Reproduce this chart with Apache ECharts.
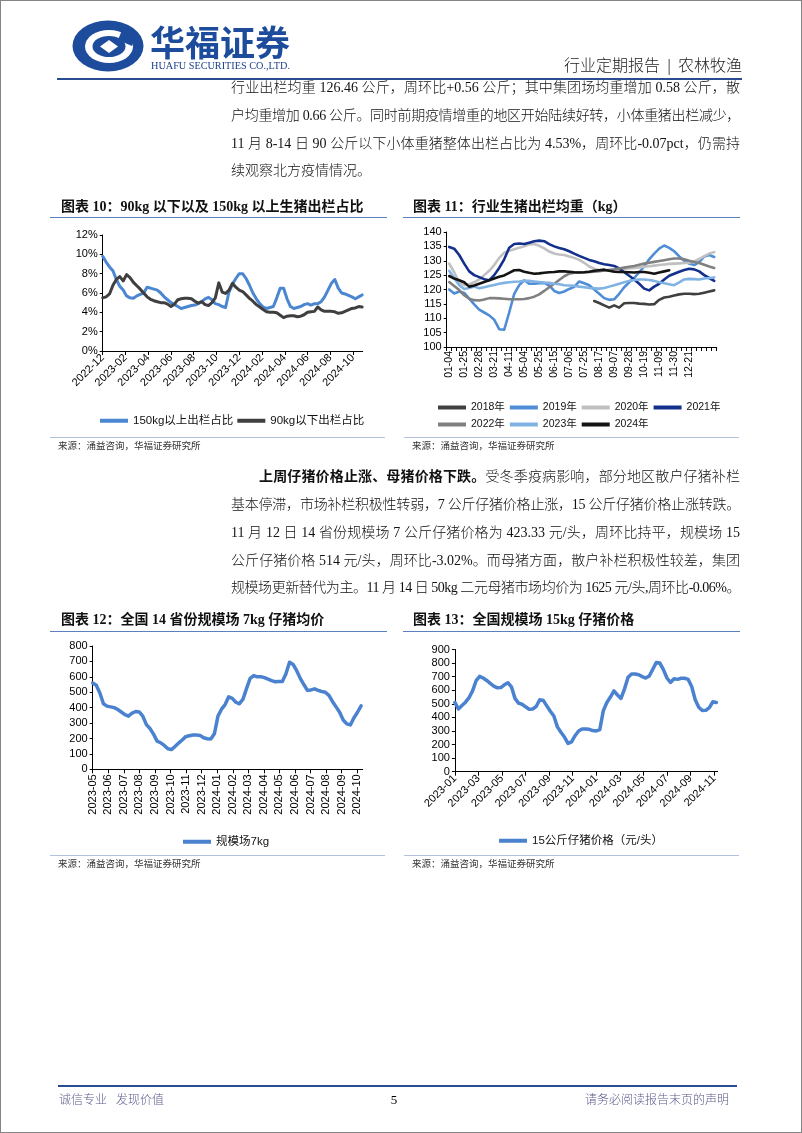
<!DOCTYPE html>
<html><head><meta charset="utf-8">
<script src="https://cdn.jsdelivr.net/npm/echarts@6/dist/echarts.min.js"></script>
<style>
html,body{margin:0;padding:0;background:#fff;}
#page{position:relative;width:802px;height:1133px;overflow:hidden;background:#fff;}
#chart{position:absolute;left:0;top:0;width:802px;height:1133px;}
#border{position:absolute;left:0;top:0;width:800px;height:1131px;border:1px solid #858585;pointer-events:none;}
.t{position:absolute;white-space:nowrap;font-family:"Liberation Serif","Noto Sans CJK SC",serif;color:#111;}
.ln{font-size:14px;line-height:20px;text-align:justify;text-align-last:justify;font-weight:300;}
.ln b{font-weight:bold;}
.nj{text-align:left;text-align-last:left;}
.ttl{font-size:14px;font-weight:bold;line-height:20px;}
.src{font-size:9.5px;line-height:12px;color:#333;}
.rule{position:absolute;}
</style></head>
<body><div id="page">
<div id="chart"></div>

<svg class="t" style="left:72px;top:20px" width="72" height="52" viewBox="0 0 72 52">
<ellipse cx="36" cy="26" rx="35.5" ry="25.5" fill="#1d4c9c"/>
<ellipse cx="37" cy="26.5" rx="24" ry="16.5" fill="#fff"/>
<ellipse cx="37" cy="26.5" rx="16.5" ry="10.5" fill="#1d4c9c"/>
<path d="M37 20 L46 26.5 L37 33 L28 26.5 Z" fill="#fff"/>
<path d="M50 10 L64 14 L60 26 L46 20 Z" fill="#1d4c9c"/>
</svg>
<div class="t" style="left:150px;top:20px;font-family:'Noto Sans CJK SC';font-weight:bold;font-size:35px;line-height:42px;color:#1d4c9c;">华福证券</div>
<div class="t fit" data-w="139" style="left:151px;top:59px;font-size:11px;line-height:13px;color:#1d3f8a;">HUAFU SECURITIES CO.,LTD.</div>
<div class="t" style="left:480px;top:56px;width:262px;text-align:right;font-size:16px;line-height:20px;color:#222;font-weight:300;">行业定期报告<span style="display:inline-block;width:18px;text-align:center;">|</span>农林牧渔</div>
<div class="rule" style="left:57px;top:78px;width:685px;height:2px;background:#2a4c91;"></div>

<div class="t ln" data-w="509" style="left:231px;top:78px;">行业出栏均重 126.46 公斤，周环比+0.56 公斤；其中集团场均重增加 0.58 公斤，散</div>
<div class="t ln" data-w="509" style="left:231px;top:106px;">户均重增加 0.66 公斤。同时前期疫情增重的地区开始陆续好转，小体重猪出栏减少，</div>
<div class="t ln" data-w="509" style="left:231px;top:134px;">11 月 8-14 日 90 公斤以下小体重猪整体出栏占比为 4.53%，周环比-0.07pct，仍需持</div>
<div class="t ln nj" data-w="509" style="left:231px;top:161px;">续观察北方疫情情况。</div>

<div class="t ttl" style="left:61px;top:197px;">图表 10：90kg 以下以及 150kg 以上生猪出栏占比</div>
<div class="rule" style="left:50px;top:217px;width:337px;height:1px;background:#5c7fbe;"></div>
<div class="t ttl" style="left:413px;top:197px;">图表 11：行业生猪出栏均重（kg）</div>
<div class="rule" style="left:403px;top:217px;width:337px;height:1px;background:#5c7fbe;"></div>

<div class="rule" style="left:50px;top:437px;width:335px;height:1px;background:#b3c2dc;"></div>
<div class="t src" style="left:58px;top:440px;">来源：涌益咨询，华福证券研究所</div>
<div class="rule" style="left:404px;top:437px;width:335px;height:1px;background:#b3c2dc;"></div>
<div class="t src" style="left:412px;top:440px;">来源：涌益咨询，华福证券研究所</div>

<div class="t ln" data-w="481" style="left:259px;top:467px;"><b>上周仔猪价格止涨、母猪价格下跌。</b>受冬季疫病影响，部分地区散户仔猪补栏</div>
<div class="t ln" data-w="509" style="left:231px;top:495px;">基本停滞，市场补栏积极性转弱，7 公斤仔猪价格止涨，15 公斤仔猪价格止涨转跌。</div>
<div class="t ln" data-w="509" style="left:231px;top:523px;">11 月 12 日 14 省份规模场 7 公斤仔猪价格为 423.33 元/头，周环比持平，规模场 15</div>
<div class="t ln" data-w="509" style="left:231px;top:551px;">公斤仔猪价格 514 元/头，周环比-3.02%。而母猪方面，散户补栏积极性较差，集团</div>
<div class="t ln" data-w="509" style="left:231px;top:578px;">规模场更新替代为主。11 月 14 日 50kg 二元母猪市场均价为 1625 元/头,周环比-0.06%。</div>

<div class="t ttl" style="left:61px;top:610px;">图表 12：全国 14 省份规模场 7kg 仔猪均价</div>
<div class="rule" style="left:50px;top:631px;width:337px;height:1px;background:#5c7fbe;"></div>
<div class="t ttl" style="left:413px;top:610px;">图表 13：全国规模场 15kg 仔猪价格</div>
<div class="rule" style="left:403px;top:631px;width:337px;height:1px;background:#5c7fbe;"></div>

<div class="rule" style="left:50px;top:855px;width:335px;height:1px;background:#b3c2dc;"></div>
<div class="t src" style="left:58px;top:858px;">来源：涌益咨询，华福证券研究所</div>
<div class="rule" style="left:404px;top:855px;width:335px;height:1px;background:#b3c2dc;"></div>
<div class="t src" style="left:412px;top:858px;">来源：涌益咨询，华福证券研究所</div>

<div class="rule" style="left:58px;top:1085px;width:679px;height:1.5px;background:#2a4c91;"></div>
<div class="t" style="left:59px;top:1092px;font-size:12px;line-height:16px;color:#5a5a8c;font-weight:300;">诚信专业&nbsp;&nbsp;&nbsp;发现价值</div>
<div class="t" style="left:380px;top:1091px;width:28px;text-align:center;font-size:13px;line-height:18px;color:#000;">5</div>
<div class="t" style="left:529px;top:1092px;width:200px;text-align:right;font-size:12px;line-height:16px;color:#5a5a8c;font-weight:300;">请务必阅读报告末页的声明</div>

<div id="border"></div>
</div>
<script>
// ---------- Chart 10: 90kg以下 / 150kg以上 出栏占比 (%), x step 0.3 month from 2022-12 ----------
const c10Start = [2022, 12];
const c10StepMonths = 0.3;
const c10Ticks = [0, 2, 4, 6, 8, 10, 12, 14, 16, 18, 20, 22];
const c10Above150 = [9.8,9.2,8.7,8.3,7.4,6.7,6.3,5.7,5.5,5.45,5.7,5.85,6.0,6.6,6.5,6.4,6.3,6.0,5.6,5.3,5.0,4.8,4.6,4.4,4.5,4.6,4.7,4.75,4.9,5.1,5.4,5.55,5.3,4.9,4.8,4.6,4.5,6.1,6.9,7.5,8.0,8.0,7.5,6.8,6.0,5.4,4.9,4.55,4.4,4.5,4.6,5.5,6.5,6.5,5.4,4.6,4.4,4.5,4.6,4.8,4.9,4.75,4.9,4.9,5.1,5.6,6.3,7.0,7.4,6.5,6.0,5.9,5.75,5.6,5.4,5.6,5.8];
const c10Below90 = [5.5,5.6,5.9,6.8,7.4,7.7,7.25,7.9,7.6,7.1,6.75,6.4,6.0,5.6,5.35,5.2,5.1,5.0,5.0,4.85,4.6,4.85,5.3,5.4,5.45,5.45,5.4,5.15,4.95,5.1,4.8,4.7,5.0,5.5,7.05,6.1,5.95,6.3,7.0,6.6,6.3,6.15,5.8,5.45,5.15,4.8,4.55,4.3,4.05,4.0,4.0,3.95,3.7,3.45,3.6,3.65,3.65,3.55,3.6,3.75,4.0,4.05,4.1,4.55,4.25,4.1,4.1,4.1,4.05,3.9,3.95,4.1,4.25,4.4,4.45,4.6,4.55];

// ---------- Chart 11: 行业生猪出栏均重 (kg) ----------
const c11Cats = ['01-04','01-11','01-18','01-25','02-07','02-14','02-28','03-07','03-14','03-21','03-28','04-04','04-11','04-18','04-25','05-04','05-11','05-18','05-25','06-01','06-08','06-15','06-22','06-29','07-06','07-13','07-19','07-25','08-03','08-10','08-17','08-24','08-31','09-07','09-14','09-21','09-28','10-05','10-12','10-19','10-26','11-02','11-09','11-16','11-23','11-30','12-07','12-14','12-21','12-23','12-25','12-27','12-29','12-31'];
const c11Y2018 = [null,null,null,null,null,null,null,null,null,null,null,null,null,null,null,null,null,null,null,null,null,null,null,null,null,null,null,null,null,116,115.3,114.5,113.7,114.5,113.7,115.2,115.3,115.3,115.1,115,114.8,114.9,116.4,117.2,117.5,117.9,118.3,118.5,118.5,118.4,118.5,118.9,119.3,119.7];
const c11Y2019 = [120,118.6,119.3,118.8,116.8,114.8,113,112,111,109.5,106.2,106,112,118.5,121.5,123.2,122,122,122.2,122.3,121.4,119.5,118.8,119.3,120.2,120.9,122.8,122.2,121.5,120,118.5,117,116.4,116.6,118.5,120.8,122.5,124,126,128,130.5,132.5,134.2,135.3,134.5,133.3,131.5,130,129,128.5,129.5,131.5,132,131.3];
const c11Y2020 = [129,126,122.5,121.5,121.8,122.5,123.5,125,126.5,128.5,131,132.8,133.5,134,134.5,135,135.7,135.8,135.2,134.3,133.2,132.5,132.2,132,131.5,131,130.3,129.3,128,127.2,126.7,126.6,126.8,126.9,127,127.2,127.3,127.5,127.7,127.9,128.1,128.3,128.5,128.7,128.9,129,129.1,129.2,129.3,129.8,130.6,131.6,132.5,133];
const c11Y2021 = [134.8,134.2,132,129,126.3,125,124.3,123.6,123.2,125,127.5,130.5,134.5,135.8,136,135.8,136.3,136.8,137,136.8,135.8,135,134.4,134,133.3,132.5,131.7,131,130.3,129.8,129.2,128.8,128.5,128.2,127.3,126,124.8,123.5,122,120.3,119.7,121,122,123.5,124.8,125.5,126.2,126.8,127.2,127,126.3,125,124,123];
const c11Y2022 = [122.6,121.2,119.8,118,116.8,116.3,116.2,116.5,117,117,116.9,116.8,116.6,116.6,116.6,116.7,117,117.5,118.3,119.5,120.8,122,123.3,124.6,125.5,125.8,126,126,126.1,126.2,126.4,126.6,126.8,127,127.3,127.6,127.9,128.2,128.6,129,129.3,129.6,129.9,130.2,130.5,130.8,130.8,130.5,130,129.6,129.2,128.6,128,127.5];
const c11Y2023 = [126.5,124,121.5,120.2,120.5,121,120.4,120.8,121.2,121.6,122,122.3,122.5,122.7,122.8,123,123,122.8,122.6,122.4,122.3,122,121.8,121.5,121.4,121.3,121,120.8,120.5,120.4,120.3,120.5,121,121.5,122,122.5,123,123.3,123.5,123.5,123.3,123,122.5,122.2,121.8,121.5,122.5,123.5,123.7,123.6,123.5,123.8,124,124.2];
const c11Y2024 = [124.7,123.8,123.2,122.5,121,121.4,122,122.6,123.2,123.8,124.4,124.9,125.8,126.7,126.8,126.2,125.8,125.5,125.6,125.8,126,126.1,126.3,126.3,126.2,126,125.9,126,126.2,126.5,126.7,126.9,126.5,126.2,126.1,126.1,126,125.9,126.1,126.1,125.8,125.5,125.9,126.3,126.7,null,null,null,null,null,null,null,null,null];
const c11Names = ['2018年','2019年','2020年','2021年','2022年','2023年','2024年'];

// ---------- Chart 12: 全国14省份规模场7kg仔猪均价, weekly from 2023-05 ----------
const c12Start = [2023, 5];
const c12StepMonths = 7 / 30.44;
const c12Ticks = [0,1,2,3,4,5,6,7,8,9,10,11,12,13,14,15,16,17];
const c12Price = [560,545,495,425,410,405,400,388,372,355,345,365,375,372,345,290,265,228,183,172,155,133,128,148,170,190,212,218,222,222,220,205,198,196,230,345,390,420,470,460,435,425,455,525,590,608,600,600,595,585,575,568,570,570,620,695,680,640,590,550,512,515,522,512,505,500,480,440,405,370,320,295,288,335,370,412];

// ---------- Chart 13: 全国规模场15kg仔猪价格, step 0.3 month from 2023-01 ----------
const c13Start = [2023, 1];
const c13StepMonths = 0.3;
const c13Ticks = [0,2,4,6,8,10,12,14,16,18,20,22];
const c13Price = [510,462,488,512,545,595,670,702,690,672,650,630,618,620,640,655,625,540,505,497,478,460,462,480,530,525,485,445,410,330,290,255,208,220,265,300,315,315,312,303,300,310,450,510,550,595,565,540,610,695,720,720,714,700,690,705,755,805,800,752,690,657,685,680,688,688,680,628,530,475,450,452,472,515,510];

// ---------- helpers ----------
function monthFmt(start) {
  return function (v) {
    const t = start[0] * 12 + (start[1] - 1) + Math.round(v);
    return Math.floor(t / 12) + '-' + String(t % 12 + 1).padStart(2, '0');
  };
}
function pairs(vals, step) { return vals.map((v, i) => [i * step, v]); }

const SANS = '"Liberation Sans", Arial, "Noto Sans CJK SC", sans-serif';
const axisLine = { show: true, onZero: false, lineStyle: { color: '#000', width: 1 } };
const lblBase = { color: '#000', fontFamily: SANS, fontSize: 11 };
function xValAxis(grid, max, ticks, start, rotate) {
  return {
    type: 'value', gridIndex: grid, min: 0, max: max,
    axisLine: axisLine,
    axisTick: { show: true, length: 4, customValues: ticks, lineStyle: { color: '#000' } },
    axisLabel: Object.assign({ customValues: ticks, formatter: monthFmt(start), rotate: rotate, margin: 5 }, lblBase),
    splitLine: { show: false }
  };
}
function yAxis(grid, min, max, interval, fmt) {
  return {
    type: 'value', gridIndex: grid, min: min, max: max, interval: interval,
    axisLine: axisLine,
    axisTick: { show: true, length: 3, lineStyle: { color: '#000' } },
    axisLabel: Object.assign({ formatter: fmt || '{value}', margin: 5 }, lblBase),
    splitLine: { show: false }
  };
}
function lineSeries(name, data, color, width, xi, yi) {
  return { type: 'line', name: name, data: data, xAxisIndex: xi, yAxisIndex: yi,
    symbol: 'none', showSymbol: false, connectNulls: false, smooth: false,
    lineStyle: { color: color, width: width, cap: 'round', join: 'round' },
    itemStyle: { color: color }, emphasis: { disabled: true }, z: 3 };
}
const legText = { color: '#111', fontFamily: SANS, fontSize: 11.5 };

const c11Colors = ['#404040', '#4f8dd6', '#c0c0c0', '#13308d', '#808080', '#80b2e3', '#141414'];
const c11Data = [c11Y2018, c11Y2019, c11Y2020, c11Y2021, c11Y2022, c11Y2023, c11Y2024];

const option = {
  animation: false,
  backgroundColor: 'transparent',
  grid: [
    { left: 102.7, top: 235, width: 260, height: 116, outerBoundsMode: 'none' },
    { left: 446.7, top: 232, width: 270, height: 115, outerBoundsMode: 'none' },
    { left: 92.7, top: 646, width: 270, height: 123.3, outerBoundsMode: 'none' },
    { left: 454.9, top: 649.5, width: 262.7, height: 122.2, outerBoundsMode: 'none' }
  ],
  xAxis: [
    xValAxis(0, 22.85, c10Ticks, c10Start, 45),
    {
      type: 'category', gridIndex: 1, data: c11Cats, boundaryGap: true,
      axisLine: axisLine,
      axisTick: { show: true, interval: 0, length: 4, lineStyle: { color: '#000' } },
      axisLabel: Object.assign({ interval: function (i) { return i % 3 === 0 && i <= 48; }, rotate: 90, margin: 4 }, lblBase, { fontSize: 10.5 }),
      splitLine: { show: false }
    },
    xValAxis(2, 17.35, c12Ticks, c12Start, 90),
    xValAxis(3, 22.3, c13Ticks, c13Start, 45)
  ],
  yAxis: [
    yAxis(0, 0, 12, 2, '{value}%'),
    yAxis(1, 100, 140, 5),
    yAxis(2, 0, 800, 100),
    yAxis(3, 0, 900, 100)
  ],
  legend: [
    { data: ['150kg以上出栏占比', '90kg以下出栏占比'], left: 95, top: 410, icon: 'rect', itemWidth: 28, itemHeight: 4, itemGap: 4, textStyle: legText, selectedMode: false },
    { data: c11Names, left: 433, top: 396.5, width: 300, icon: 'rect', itemWidth: 28, itemHeight: 4, itemGap: 5, textStyle: Object.assign({}, legText, { fontSize: 10.5, lineHeight: 12 }), selectedMode: false },
    { data: ['规模场7kg'], left: 178, top: 831, icon: 'rect', itemWidth: 28, itemHeight: 4, textStyle: legText, selectedMode: false },
    { data: ['15公斤仔猪价格（元/头）'], left: 494, top: 830, icon: 'rect', itemWidth: 28, itemHeight: 4, textStyle: legText, selectedMode: false }
  ],
  series: [
    lineSeries('150kg以上出栏占比', pairs(c10Above150, c10StepMonths), '#4b86d1', 3, 0, 0),
    lineSeries('90kg以下出栏占比', pairs(c10Below90, c10StepMonths), '#3f3f3f', 3, 0, 0)
  ].concat(
    c11Names.map((n, k) => lineSeries(n, c11Data[k], c11Colors[k], 2.6, 1, 1))
  ).concat([
    lineSeries('规模场7kg', pairs(c12Price, c12StepMonths), '#4b82cf', 3.5, 2, 2),
    lineSeries('15公斤仔猪价格（元/头）', pairs(c13Price, c13StepMonths), '#4b82cf', 3.5, 3, 3)
  ])
};

const chart = echarts.init(document.getElementById('chart'), null, { renderer: 'canvas', width: 802, height: 1133 });
chart.setOption(option);

// fit text lines into their measured widths (justify, shrink letter spacing if needed)
document.querySelectorAll('.ln').forEach(function (el) {
  const w = parseFloat(el.dataset.w);
  el.style.display = 'inline-block'; el.style.width = 'auto';
  const nat = el.getBoundingClientRect().width;
  const n = el.textContent.length;
  if (nat > w - 1) el.style.letterSpacing = (-(nat - w + 2) / n) + 'px';
  el.style.display = 'block'; el.style.width = w + 'px';
});
document.querySelectorAll('.fit').forEach(function (el) {
  const w = parseFloat(el.dataset.w);
  const nat = el.getBoundingClientRect().width;
  el.style.transformOrigin = 'left center';
  el.style.transform = 'scaleX(' + (w / nat) + ')';
});
</script>
</body></html>
